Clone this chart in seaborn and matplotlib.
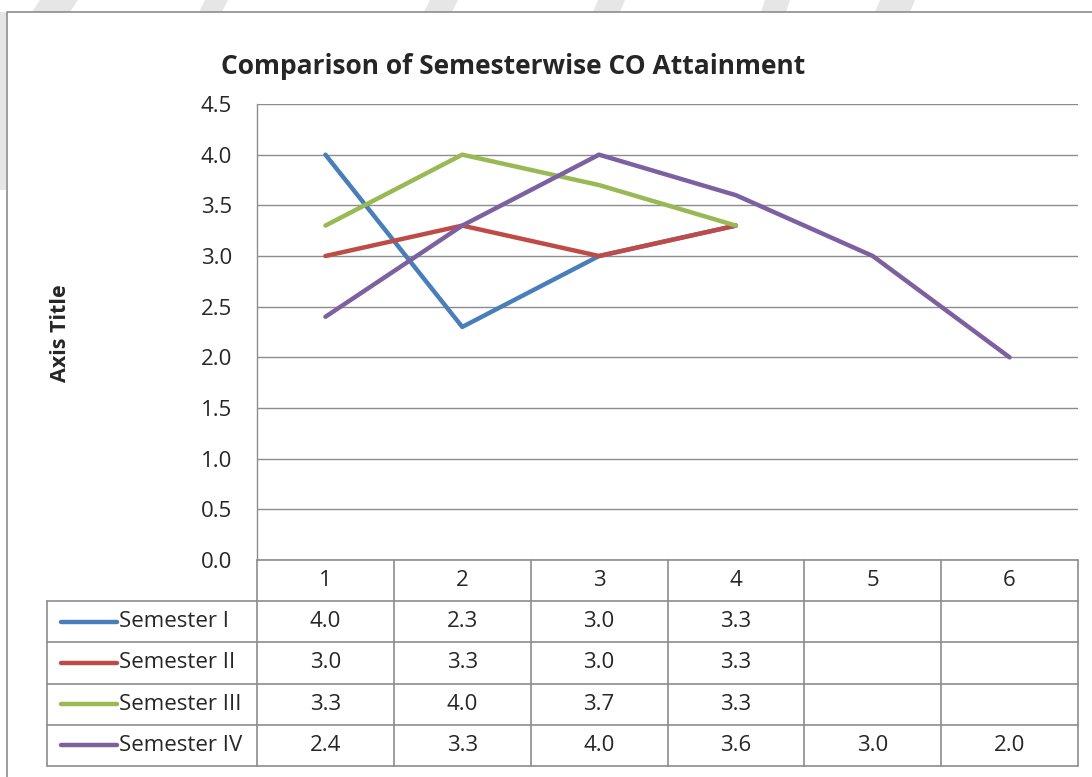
import matplotlib.pyplot as plt
import matplotlib.lines as mlines
import matplotlib.patches as mpatches
import pandas as pd
import seaborn as sns

sns.set_style("white")
plt.rcParams['font.family'] = ['Open Sans', 'DejaVu Sans']

categories = [1, 2, 3, 4, 5, 6]
series_names = ["Semester I", "Semester II", "Semester III", "Semester IV"]
sem_1 = [4.0, 2.3, 3.0, 3.3, None, None]
sem_2 = [3.0, 3.3, 3.0, 3.3, None, None]
sem_3 = [3.3, 4.0, 3.7, 3.3, None, None]
sem_4 = [2.4, 3.3, 4.0, 3.6, 3.0, 2.0]
y_ticks = [0.0, 0.5, 1.0, 1.5, 2.0, 2.5, 3.0, 3.5, 4.0, 4.5]
title = "Comparison of Semesterwise CO Attainment"
y_title = "Axis Title"

colours = ["#4a7ebb", "#be4b48", "#98b954", "#7d60a0"]
grid_col = "#8c8c8c"
fs = 16

W, H = 1092, 777


def px_rect(x0, y0, x1, y1):
    # pixel box (top-left origin) -> figure fraction rect
    return [x0 / W, 1 - y1 / H, (x1 - x0) / W, (y1 - y0) / H]


all_series = [sem_1, sem_2, sem_3, sem_4]
rows = dict(category=[], value=[], series=[])
for name, vals in zip(series_names, all_series):
    for c, v in zip(categories, vals):
        rows['category'].append(c)
        rows['value'].append(v)
        rows['series'].append(name)
df = pd.DataFrame(rows).dropna()

fig = plt.figure(figsize=(W / 100, H / 100), dpi=100)

# faint watermark strokes along the top edge
for xs in [(40, 78, 70, 32), (205, 228, 222, 199), (430, 458, 452, 424),
           (598, 625, 620, 593), (765, 790, 786, 761), (880, 915, 910, 875)]:
    poly = mpatches.Polygon([(xs[0] / W, 1), (xs[1] / W, 1), (xs[2] / W, 1 - 12 / H), (xs[3] / W, 1 - 12 / H)],
                            closed=True, transform=fig.transFigure, color="#e6e6e6", lw=0, zorder=0)
    fig.patches.append(poly)
fig.patches.append(mpatches.Rectangle((0, 1 - 190 / H), 6 / W, 178 / H, transform=fig.transFigure,
                                      color="#e6e6e6", lw=0, zorder=0))

# chart border
fig.add_artist(mlines.Line2D([7 / W, 7 / W, 1], [0, 1 - 12 / H, 1 - 12 / H],
                             transform=fig.transFigure, color=grid_col, lw=1.2))

ax = fig.add_axes(px_rect(257, 104, 1078, 560))
sns.lineplot(data=df, x="category", y="value", hue="series", hue_order=series_names,
             palette=colours, lw=3.2, legend=False, ax=ax,
             solid_capstyle="round", solid_joinstyle="round")
ax.set_xlim(0.5, len(categories) + 0.5)
ax.set_ylim(y_ticks[0], y_ticks[-1])
ax.set_yticks(y_ticks)
ax.set_yticklabels(["%.1f" % t for t in y_ticks])
ax.set_xticks([])
ax.set_xlabel("")
ax.set_ylabel("")
ax.tick_params(axis="y", length=0, pad=18, labelsize=fs)
ax.grid(axis="y", color=grid_col, lw=1)
ax.set_axisbelow(True)
for s in ["top", "right", "bottom"]:
    ax.spines[s].set_visible(False)
ax.spines["left"].set_color(grid_col)
ax.spines["left"].set_linewidth(1)

fig.text(513 / W, 1 - 66 / H, title, ha="center", va="center", fontsize=19, fontweight="bold")
fig.text(60 / W, 1 - 333 / H, y_title, ha="center", va="center", rotation=90,
         fontsize=15.5, fontweight="bold")

# data table below the plot
leg_w = (257 - 47) / ((1078 - 257) / len(categories))
x_left = 0.5 - leg_w
x_right = len(categories) + 0.5
tab = fig.add_axes(px_rect(47, 560, 1078, 766))
tab.set_xlim(x_left, x_right)
tab.set_ylim(len(series_names) + 1, 0)
tab.set_axis_off()
n_rows = len(series_names)
for k in range(len(categories) + 1):
    tab.plot([0.5 + k, 0.5 + k], [0, n_rows + 1], color=grid_col, lw=1.2, clip_on=False)
tab.plot([x_left, x_left], [1, n_rows + 1], color=grid_col, lw=1.2, clip_on=False)
tab.plot([0.5, x_right], [0, 0], color=grid_col, lw=1.2, clip_on=False)
for r in range(1, n_rows + 2):
    tab.plot([x_left, x_right], [r, r], color=grid_col, lw=1.2, clip_on=False)
for c in categories:
    tab.text(c, 0.5, str(c), ha="center", va="center", fontsize=fs)
for r, (name, vals, col) in enumerate(zip(series_names, all_series, colours)):
    yc = r + 1.5
    tab.plot([x_left + 0.1, x_left + 0.515], [yc, yc], color=col, lw=3.2,
             solid_capstyle="round", clip_on=False)
    tab.text(x_left + 0.525, yc, name, ha="left", va="center", fontsize=fs)
    for c, v in zip(categories, vals):
        if v is not None:
            tab.text(c, yc, "%.1f" % v, ha="center", va="center", fontsize=fs)

plt.savefig("out.png", dpi=100)
